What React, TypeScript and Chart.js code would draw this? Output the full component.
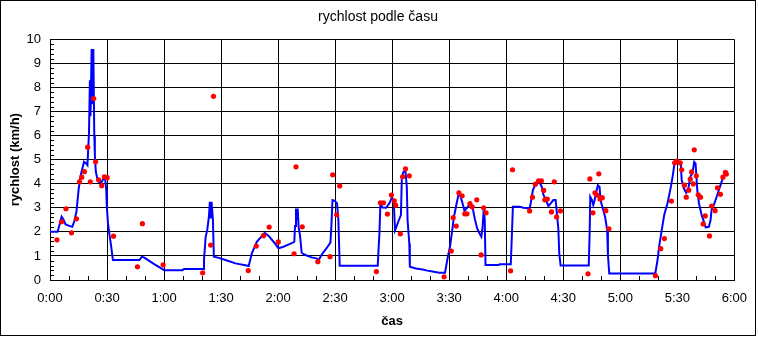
import React, { useEffect, useRef } from "react";
import { Chart, registerables } from "chart.js";

Chart.register(...registerables);

// time in minutes from start, speed in km/h
const lineTimes = [
  0, 4.0, 5.0, 6.1, 7.0, 8.2, 10.5, 11.7, 12.7, 13.9, 15.1, 16.2, 17.9, 19.0, 19.7,
  20.5, 21.0, 21.3, 21.9, 22.3, 22.8, 23.3, 23.6, 24.1, 25.2, 26.9, 28.1, 29.0, 29.6,
  29.9, 30.5, 31.3, 32.2, 33.1, 47.0, 48.4, 49.6, 55.0, 60.1, 69.7, 70.5, 80.5, 81.0,
  81.9, 82.7, 83.6, 84.1, 84.5, 85.0, 85.7, 86.2, 88.8, 92.3, 97.6, 102.7, 104.5,
  106.2, 108.8, 112.9, 115.0, 117.6, 120.2, 122.8, 126.3, 128.5, 128.9, 129.4, 129.7,
  130.3, 130.8, 131.5, 132.4, 133.2, 135.0, 137.6, 140.2, 141.4, 142.8, 145.4, 147.5,
  148.0, 148.6, 149.8, 151.0, 151.7, 152.4, 172.4, 172.9, 173.3, 173.8, 175.0, 176.8,
  178.5, 179.7, 180.8, 181.5, 182.2, 183.2, 184.6, 185.1, 186.0, 187.0, 187.7, 188.1,
  189.0, 189.3, 192.5, 196.0, 198.5, 201.2, 204.7, 207.8, 208.5, 209.3, 210.4, 211.6,
  212.5, 213.9, 215.1, 216.0, 217.3, 218.0, 219.1, 220.3, 221.7, 222.6, 223.4, 224.7,
  226.0, 226.9, 227.5, 228.2, 228.7, 229.1, 236.0, 236.5, 242.4, 243.0, 243.5, 247.0,
  249.1, 252.3, 252.9, 254.0, 255.2, 257.0, 257.8, 258.7, 259.5, 261.3, 262.2, 263.4,
  264.8, 266.0, 266.5, 267.4, 267.9, 268.6, 283.4, 283.9, 284.2, 285.1, 285.8, 286.5,
  287.4, 288.2, 289.1, 289.6, 290.8, 292.0, 293.1, 293.5, 294.2, 318.4, 319.6, 320.4,
  321.8, 323.1, 324.8, 326.6, 327.8, 328.6, 329.5, 330.9, 331.8, 332.3, 333.5, 334.7,
  335.8, 336.8, 337.9, 338.9, 339.6, 340.5, 341.4, 342.8, 344.0, 344.9, 346.6, 347.5,
  348.0, 349.2, 351.0, 352.7, 353.9, 355.3,
];
const lineSpeeds = [
  2.0, 2.0, 2.3, 2.63, 2.52, 2.31, 2.24, 2.21, 2.42, 2.83, 3.8, 4.36, 4.91, 4.84, 4.77,
  6.09, 8.3, 6.8, 9.6, 7.3, 9.6, 6.0, 5.2, 4.5, 4.1, 4.04, 4.2, 4.2, 3.73,
  3.04, 2.35, 1.87, 1.39, 0.83, 0.83, 0.97, 0.93, 0.65, 0.41, 0.41, 0.46, 0.46, 0.83,
  1.8, 2.07, 2.63, 3.25, 2.56, 3.25, 2.49, 0.97, 0.92, 0.83, 0.69, 0.61, 0.58,
  1.11, 1.59, 1.96, 1.83, 1.59, 1.32, 1.38, 1.5, 1.58, 2.24, 2.97, 2.49,
  2.97, 2.2, 1.86, 1.13, 1.08, 1.02, 0.94, 0.9, 0.83, 1.04, 1.31, 1.55,
  2.2, 3.32, 3.29, 3.18, 2.49, 0.59, 0.59, 1.38, 1.93, 3.15, 3.01, 3.0,
  3.18, 3.39, 3.32, 2.07, 2.21, 2.42, 2.7, 4.29, 4.5, 4.5, 3.87, 2.49,
  1.52, 0.55, 0.48, 0.44, 0.39, 0.35, 0.3, 0.3, 0.62, 0.97, 1.38, 2.07,
  2.63, 3.18, 3.62, 3.46, 3.11, 2.88, 2.97, 3.11, 3.11, 2.9, 2.56, 2.14,
  1.93, 1.8, 2.14, 2.97, 2.49, 0.62, 0.62, 0.65, 0.65, 1.93, 3.04, 3.04,
  3.0, 2.97, 3.2, 3.73, 3.94, 4.08, 4.01, 3.87, 3.55, 3.25, 3.07, 3.18,
  3.32, 3.32, 2.9, 2.14, 1.11, 0.6, 0.6, 2.0, 3.46, 3.32, 3.11, 3.32,
  3.66, 3.94, 3.87, 3.32, 2.97, 2.63, 2.07, 1.04, 0.27, 0.27, 0.83, 1.38,
  2.07, 2.7, 3.18, 3.87, 4.43, 4.91, 4.98, 4.91, 4.84, 4.15, 3.8, 3.62,
  3.8, 4.29, 4.43, 4.91, 4.84, 3.73, 3.18, 2.7, 2.42, 2.19, 2.21, 2.49,
  2.9, 3.11, 3.53, 3.94, 4.22, 4.43,
];

const dotTimes = [
  3.66, 6.1, 8.4, 11.3, 13.9, 15.5, 16.7, 18.1, 19.8, 21.2, 23.0, 24.0, 25.6, 27.2,
  28.6, 30.1, 33.4, 46.0, 48.6, 59.5, 80.3, 84.5, 86.0, 104.3, 108.5, 112.3, 115.3,
  120.1, 128.4, 129.4, 132.7, 140.9, 147.3, 148.7, 150.8, 152.4, 171.7, 173.8, 175.4,
  177.5, 179.6, 181.1, 181.8, 184.3, 185.5, 187.0, 189.0, 207.3, 211.1, 212.1, 213.7,
  215.1, 216.8, 218.2, 219.3, 220.9, 222.1, 224.5, 226.8, 228.1, 229.4, 242.3, 243.3,
  252.3, 253.8, 255.3, 257.0, 258.5, 259.7, 260.3, 261.6, 263.8, 265.3, 266.5, 268.5,
  283.0, 284.0, 285.6, 286.7, 287.7, 288.7, 289.4, 290.5, 292.4, 294.0, 318.5, 321.3,
  323.2, 326.9, 328.6, 329.7, 331.5, 332.3, 333.7, 334.7, 336.0, 336.8, 337.5, 338.4,
  338.9, 340.0, 341.0, 342.2, 343.6, 344.7, 346.9, 348.0, 349.9, 351.1, 352.7, 354.0,
  355.3, 355.8,
];
const dotSpeeds = [
  1.67, 2.42, 2.96, 1.96, 2.54, 4.08, 4.27, 4.5, 5.52, 4.08, 7.54, 4.91, 4.16, 3.92,
  4.29, 4.25, 1.82, 0.55, 2.34, 0.63, 0.3, 1.45, 7.63, 0.39, 1.41, 1.84, 2.2,
  1.58, 1.09, 4.7, 2.21, 0.76, 0.97, 4.37, 2.71, 3.91, 0.35, 3.21, 3.21,
  2.74, 3.53, 3.29, 3.11, 1.92, 4.29, 4.62, 4.33, 0.13, 1.2, 2.59, 2.24,
  3.62, 3.5, 2.75, 2.75, 3.17, 3.04, 3.33, 1.04, 3.0, 2.79, 0.38, 4.58,
  2.87, 3.44, 3.98, 4.12, 4.12, 3.72, 3.33, 3.36, 2.83, 4.08, 2.62, 2.87,
  0.26, 4.2, 2.79, 3.62, 3.53, 4.41, 3.37, 3.42, 2.88, 2.13, 0.18, 1.3,
  1.72, 3.28, 4.87, 4.94, 4.87, 4.58, 3.94, 3.44, 3.73, 4.19, 4.49, 3.99,
  5.41, 4.33, 3.54, 3.44, 2.33, 2.66, 1.83, 3.07, 2.88, 3.83, 3.56, 4.27,
  4.47, 4.4,
];

const xTickLabels = [
  "0:00", "0:30", "1:00", "1:30", "2:00", "2:30", "3:00", "3:30", "4:00", "4:30",
  "5:00", "5:30", "6:00",
];
const yTickLabels = ["0", "1", "2", "3", "4", "5", "6", "7", "8", "9", "10"];
const chartTitle = "rychlost podle času";

const FONT = "'Liberation Sans', Arial, sans-serif";

const decorPlugin = {
  id: "decor",
  afterDraw(chart: any) {
    const { ctx, chartArea, scales } = chart;
    ctx.save();
    ctx.strokeStyle = "#000";
    ctx.lineWidth = 1;
    ctx.beginPath();
    // minor x ticks every 10 min
    for (let m = 10; m < 360; m += 10) {
      if (m % 30 === 0) continue;
      const x = Math.round(scales.x.getPixelForValue(m)) + 0.5;
      ctx.moveTo(x, chartArea.bottom);
      ctx.lineTo(x, chartArea.bottom - 4);
    }
    // minor y ticks every 0.2
    for (let i = 1; i < 50; i++) {
      if (i % 5 === 0) continue;
      const y = Math.round(scales.y.getPixelForValue(i / 5)) + 0.5;
      ctx.moveTo(chartArea.left, y);
      ctx.lineTo(chartArea.left + 4, y);
    }
    ctx.stroke();
    // outer frame
    ctx.strokeRect(0.5, 0.5, 755, 335);
    // title
    ctx.fillStyle = "#000";
    ctx.font = `normal 14px ${FONT}`;
    ctx.textAlign = "center";
    ctx.textBaseline = "middle";
    ctx.fillText(chartTitle, 378, 17.5);
    ctx.restore();
  },
};

export default function App() {
  const ref = useRef<HTMLCanvasElement>(null);

  useEffect(() => {
    const canvas = ref.current;
    if (!canvas) return;
    const lineData = lineTimes.map((t, i) => ({ x: t, y: lineSpeeds[i] }));
    const dotData = dotTimes.map((t, i) => ({ x: t, y: dotSpeeds[i] }));
    const chart = new Chart(canvas, {
      type: "line",
      data: {
        datasets: [
          {
            label: "body",
            data: dotData,
            showLine: false,
            pointRadius: 2.6,
            pointBackgroundColor: "#ff0000",
            pointBorderWidth: 0,
            pointStyle: "circle",
            order: 0,
          },
          {
            label: "rychlost",
            data: lineData,
            borderColor: "#0000ff",
            borderWidth: 2,
            pointRadius: 0,
            tension: 0,
            fill: false,
            order: 1,
          },
        ],
      },
      options: {
        responsive: false,
        animation: false,
        events: [],
        layout: { padding: { left: 0, right: 18, top: 39.3, bottom: 0 } },
        plugins: {
          legend: { display: false },
          tooltip: { enabled: false },
          title: { display: false },
        },
        scales: {
          x: {
            type: "linear",
            min: 0,
            max: 360,
            afterFit: (s: any) => {
              s.height = 57;
            },
            ticks: {
              stepSize: 30,
              autoSkip: false,
              maxRotation: 0,
              padding: 11,
              color: "#000",
              font: { family: FONT, size: 13 },
              callback: (v: any) => xTickLabels[Math.round(Number(v) / 30)] ?? "",
            },
            grid: { color: "#000", lineWidth: 1, drawTicks: false },
            border: { color: "#000", width: 1 },
            title: {
              display: true,
              text: "čas",
              color: "#000",
              font: { family: FONT, size: 13, weight: "bold" },
              padding: { top: 0, bottom: 8 },
            },
          },
          y: {
            type: "linear",
            min: 0,
            max: 10,
            afterFit: (s: any) => {
              s.width = 50;
            },
            ticks: {
              stepSize: 1,
              padding: 9,
              color: "#000",
              font: { family: FONT, size: 13 },
              callback: (v: any) => yTickLabels[Math.round(Number(v))] ?? "",
            },
            grid: { color: "#000", lineWidth: 1, drawTicks: false },
            border: { color: "#000", width: 1 },
            title: {
              display: true,
              text: "rychlost (km/h)",
              color: "#000",
              font: { family: FONT, size: 13, weight: "bold" },
              padding: { top: 8, bottom: 0 },
            },
          },
        },
      },
      plugins: [decorPlugin],
    });
    return () => chart.destroy();
  }, []);

  return (
    <div
      style={{
        position: "fixed",
        left: 0,
        top: 0,
        width: 758,
        height: 337,
        background: "#fff",
      }}
    >
      <canvas ref={ref} width={758} height={337} style={{ display: "block" }} />
    </div>
  );
}
